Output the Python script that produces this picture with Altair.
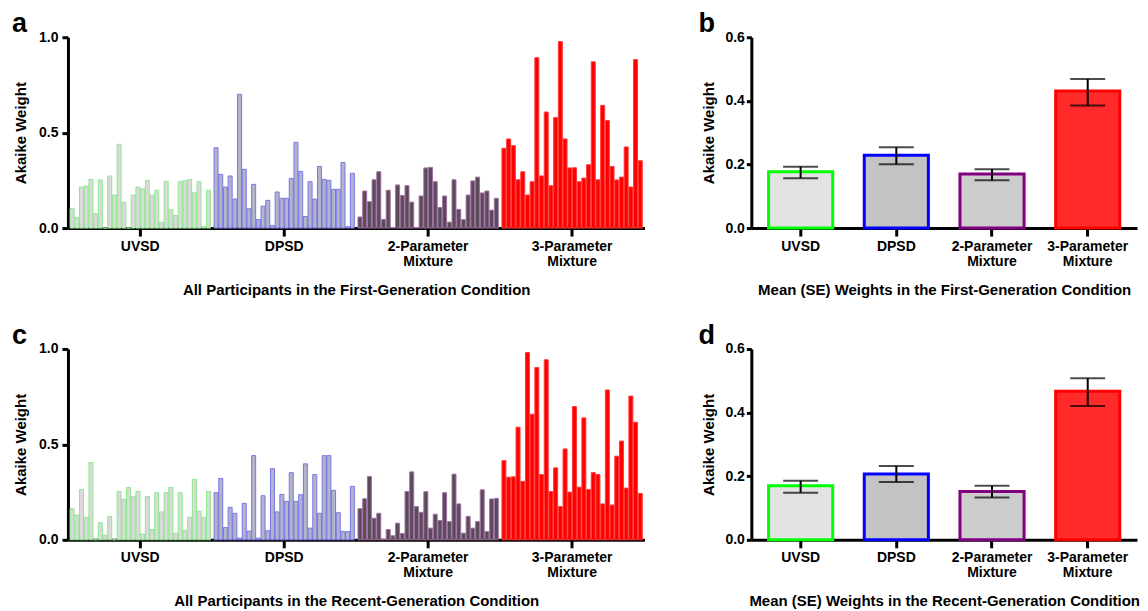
import altair as alt
import pandas as pd

models = ["UVSD", "DPSD", "2-Parameter Mixture", "3-Parameter Mixture"]

# Panel a: individual weights, first-generation condition (30 participants)
first_uvsd = [0.103, 0.056, 0.215, 0.220, 0.255, 0.075, 0.252, 0.0, 0.273, 0.173,
              0.439, 0.135, 0.0, 0.173, 0.215, 0.205, 0.250, 0.173, 0.198, 0.030,
              0.245, 0.098, 0.066, 0.245, 0.248, 0.255, 0.185, 0.243, 0.007, 0.198]
first_dpsd = [0.421, 0.281, 0.215, 0.273, 0.152, 0.701, 0.308, 0.101, 0.229, 0.045,
              0.115, 0.145, 0.014, 0.189, 0.156, 0.156, 0.260, 0.449, 0.297, 0.061,
              0.243, 0.152, 0.323, 0.255, 0.250, 0.203, 0.203, 0.344, 0.007, 0.287]
first_mix2 = [0.058, 0.194, 0.138, 0.253, 0.295, 0.045, 0.198, 0.003, 0.226, 0.171,
              0.222, 0.136, 0.003, 0.168, 0.315, 0.318, 0.243, 0.108, 0.168, 0.031,
              0.253, 0.098, 0.044, 0.173, 0.247, 0.267, 0.184, 0.194, 0.094, 0.156]
first_mix3 = [0.418, 0.467, 0.432, 0.253, 0.295, 0.173, 0.243, 0.893, 0.273, 0.608,
              0.222, 0.579, 0.977, 0.467, 0.315, 0.316, 0.243, 0.262, 0.332, 0.871,
              0.253, 0.643, 0.563, 0.323, 0.252, 0.267, 0.425, 0.215, 0.883, 0.353]

# Panel c: individual weights, recent-generation condition
recent_uvsd = [0.163, 0.130, 0.264, 0.118, 0.405, 0.0, 0.090, 0.024, 0.122, 0.0,
               0.253, 0.212, 0.274, 0.226, 0.253, 0.030, 0.227, 0.054, 0.247, 0.146,
               0.247, 0.274, 0.035, 0.247, 0.050, 0.118, 0.316, 0.149, 0.118, 0.253]
recent_dpsd = [0.247, 0.321, 0.064, 0.170, 0.139, 0.009, 0.191, 0.045, 0.441, 0.009,
               0.231, 0.047, 0.373, 0.146, 0.238, 0.201, 0.352, 0.201, 0.236, 0.398,
               0.061, 0.342, 0.139, 0.441, 0.441, 0.259, 0.142, 0.043, 0.043, 0.280]
recent_mix2 = [0.163, 0.215, 0.332, 0.113, 0.139, 0.003, 0.054, 0.021, 0.087, 0.033,
               0.253, 0.356, 0.174, 0.144, 0.252, 0.061, 0.134, 0.101, 0.247, 0.095,
               0.344, 0.188, 0.035, 0.123, 0.061, 0.095, 0.262, 0.043, 0.214, 0.217]
recent_mix3 = [0.415, 0.328, 0.330, 0.590, 0.306, 0.981, 0.658, 0.903, 0.342, 0.943,
               0.253, 0.377, 0.174, 0.476, 0.250, 0.698, 0.276, 0.639, 0.264, 0.352,
               0.342, 0.188, 0.785, 0.182, 0.438, 0.517, 0.271, 0.753, 0.616, 0.243]

# Panels b and d: mean (SE)
first_mean = [0.177, 0.229, 0.170, 0.431]
first_lo = [0.157, 0.201, 0.150, 0.385]
first_hi = [0.193, 0.254, 0.185, 0.469]
recent_mean = [0.170, 0.207, 0.152, 0.467]
recent_lo = [0.148, 0.182, 0.133, 0.421]
recent_hi = [0.186, 0.232, 0.170, 0.508]

FONT = "Liberation Sans"
ind_fill = ["#dadada", "#b4b4c8", "#5b4a5b", "#ff0000"]
ind_stroke = ["#8fe88f", "#7676e8", "#a070a0", "#ff3a3a"]
mean_fill = ["#e3e3e3", "#c3c3c3", "#cdcdcd", "#ff2a2a"]
mean_stroke = ["#00ff00", "#0000ff", "#800080", "#ff0000"]

LABEL_EXPR = "indexof(datum.label, 'Parameter') >= 0 ? split(datum.label, ' ') : datum.label"


def x_axis(title):
    return alt.Axis(title=title, labelAngle=0, labelExpr=LABEL_EXPR, labelLineHeight=15,
                    labelPadding=3, tickSize=8, titlePadding=14, labelOverlap=False)


def letter_mark(letter, dx):
    return alt.Chart(pd.DataFrame({"letter": [letter]})).mark_text(
        font=FONT, fontSize=27, fontWeight="bold", color="black",
        align="left", baseline="alphabetic",
    ).encode(text="letter:N", x=alt.value(dx), y=alt.value(-5))


def individual_panel(series, letter, title):
    rows = []
    for k, (m, vals) in enumerate(zip(models, series)):
        for i, v in enumerate(vals):
            rows.append({"model": m, "idx": i, "weight": v,
                         "fillc": ind_fill[k], "strokec": ind_stroke[k]})
    df = pd.DataFrame(rows)
    bars = alt.Chart(df).mark_bar(strokeWidth=1).encode(
        x=alt.X("model:N", sort=models,
                scale=alt.Scale(paddingInner=0.025, paddingOuter=0.015),
                axis=x_axis(title)),
        xOffset=alt.XOffset("idx:O", scale=alt.Scale(paddingInner=0.15)),
        y=alt.Y("weight:Q", scale=alt.Scale(domain=[0, 1]),
                axis=alt.Axis(values=[0, 0.5, 1.0], format=".1f", title="Akaike Weight",
                              tickSize=6, labelPadding=4, titlePadding=10)),
        fill=alt.Fill("fillc:N", scale=None),
        stroke=alt.Stroke("strokec:N", scale=None),
    )
    return alt.layer(bars, letter_mark(letter, -56)).properties(width=577, height=191)


def mean_panel(mean, lo, hi, letter, title):
    df = pd.DataFrame({"model": models, "mean": mean, "lo": lo, "hi": hi,
                       "fillc": mean_fill, "strokec": mean_stroke})
    xenc = alt.X("model:N", sort=models,
                 scale=alt.Scale(paddingInner=0.33, paddingOuter=0.18),
                 axis=x_axis(title))

    def yenc(field):
        return alt.Y(field + ":Q", scale=alt.Scale(domain=[0, 0.6]),
                     axis=alt.Axis(values=[0, 0.2, 0.4, 0.6], format=".1f",
                                   title="Akaike Weight", tickSize=5, labelPadding=2,
                                   titlePadding=8))

    bars = alt.Chart(df).mark_bar(strokeWidth=3).encode(
        x=xenc, y=yenc("mean"),
        fill=alt.Fill("fillc:N", scale=None),
        stroke=alt.Stroke("strokec:N", scale=None),
    )
    rule = alt.Chart(df).mark_rule(strokeWidth=2, color="black").encode(
        x=xenc, y=yenc("lo"), y2="hi:Q")
    cap_lo = alt.Chart(df).mark_tick(size=35, thickness=2, color="black").encode(
        x=xenc, y=yenc("lo"))
    cap_hi = alt.Chart(df).mark_tick(size=35, thickness=2, color="black").encode(
        x=xenc, y=yenc("hi"))
    return alt.layer(bars, rule, cap_lo, cap_hi, letter_mark(letter, -53)).properties(
        width=386, height=191)


pa = individual_panel([first_uvsd, first_dpsd, first_mix2, first_mix3], "a",
                      "All Participants in the First-Generation Condition")
pb = mean_panel(first_mean, first_lo, first_hi, "b",
                "Mean (SE) Weights in the First-Generation Condition")
pc = individual_panel([recent_uvsd, recent_dpsd, recent_mix2, recent_mix3], "c",
                      "All Participants in the Recent-Generation Condition")
pd_ = mean_panel(recent_mean, recent_lo, recent_hi, "d",
                 "Mean (SE) Weights in the Recent-Generation Condition")

row1 = alt.hconcat(pa, pb, spacing=54)
row2 = alt.hconcat(pc, pd_, spacing=54)

chart = alt.vconcat(row1, row2, spacing=25).properties(
    padding={"left": 4, "top": 2, "right": 0, "bottom": 0}
).configure_axis(
    labelFont=FONT, titleFont=FONT, labelFontWeight="bold", titleFontWeight="bold",
    labelFontSize=14, titleFontSize=15, labelColor="black", titleColor="black",
    domainColor="black", domainWidth=3, tickColor="black", tickWidth=3, grid=False,
).configure_view(stroke=None)

chart.save("out.html", embed_options={"renderer": "svg", "actions": False})
